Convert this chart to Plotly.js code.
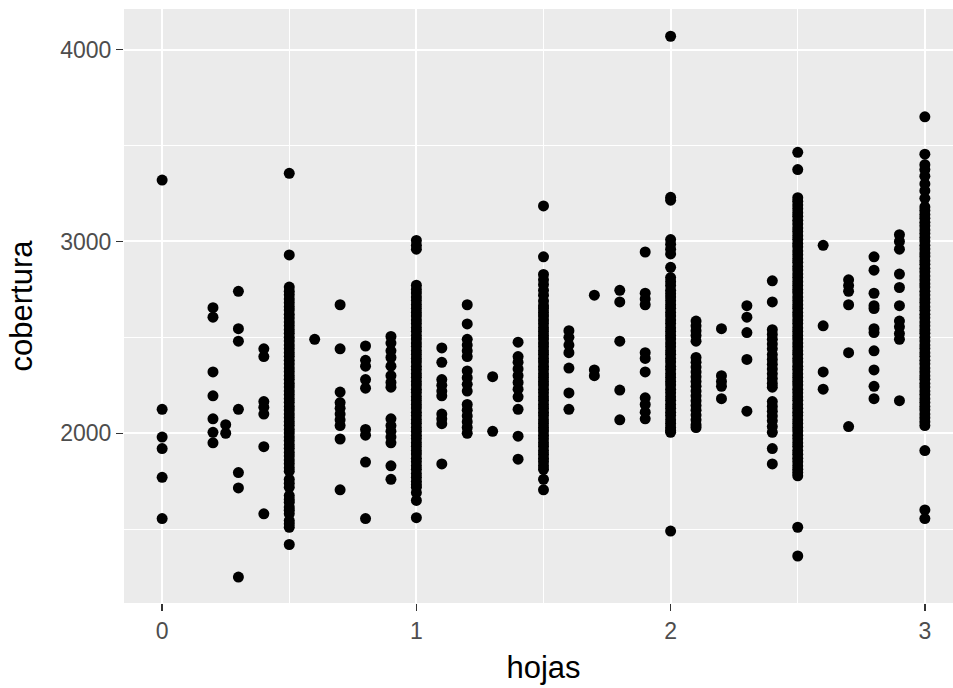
<!DOCTYPE html>
<html><head><meta charset="utf-8">
<script src="https://cdn.plot.ly/plotly-3.0.1.min.js"></script>
<style>html,body{margin:0;padding:0;overflow:hidden;background:#fff}#chart{width:963px;height:688px}</style>
</head><body><div id="chart"></div>
<script>
const hojasNiveles = [0, 0.2, 0.25, 0.3, 0.4, 0.5, 0.6, 0.7, 0.8, 0.9, 1.0, 1.1, 1.2, 1.3, 1.4, 1.5, 1.6, 1.7, 1.8, 1.9, 2.0, 2.1, 2.2, 2.3, 2.4, 2.5, 2.6, 2.7, 2.8, 2.9, 3.0];
const coberturaPorNivel = [
  [3320, 2125, 1980, 1920, 1770, 1555],
  [2655, 2605, 2320, 2195, 2075, 2005, 1950],
  [2045, 2000],
  [2740, 2545, 2480, 2125, 1795, 1715, 1250],
  [2440, 2400, 2165, 2135, 2100, 1930, 1580],
  [3355, 2930, 2762, 2741, 2722, 2700, 2681, 2660, 2642, 2620, 2601, 2580, 2561, 2540, 2522, 2500, 2481, 2460, 2441, 2420, 2402, 2380, 2361, 2340, 2321, 2300, 2282, 2260, 2241, 2220, 2201, 2180, 2162, 2140, 2121, 2100, 2081, 2060, 2042, 2020, 2001, 1980, 1961, 1940, 1922, 1900, 1881, 1860, 1841, 1820, 1802, 1760, 1740, 1718, 1675, 1655, 1640, 1615, 1598, 1580, 1545, 1528, 1510, 1420],
  [2490],
  [2670, 2440, 2215, 2160, 2130, 2100, 2070, 2040, 1970, 1705],
  [2455, 2380, 2350, 2280, 2235, 2020, 1990, 1850, 1555],
  [2505, 2470, 2430, 2395, 2350, 2300, 2265, 2240, 2075, 2040, 2010, 1980, 1950, 1830, 1760],
  [3005, 2980, 2960, 2772, 2750, 2731, 2710, 2692, 2670, 2651, 2630, 2612, 2590, 2571, 2550, 2532, 2510, 2491, 2470, 2452, 2430, 2411, 2390, 2372, 2350, 2331, 2310, 2292, 2270, 2251, 2230, 2212, 2190, 2171, 2150, 2132, 2110, 2091, 2070, 2052, 2030, 2011, 1990, 1972, 1950, 1931, 1910, 1892, 1870, 1851, 1830, 1812, 1790, 1771, 1750, 1732, 1718, 1690, 1650, 1560],
  [2445, 2370, 2280, 2250, 2220, 2195, 2100, 2075, 2050, 1840],
  [2670, 2570, 2490, 2460, 2430, 2400, 2325, 2290, 2255, 2220, 2150, 2120, 2090, 2060, 2030, 2000],
  [2295, 2010],
  [2475, 2400, 2370, 2335, 2300, 2265, 2230, 2190, 2125, 1985, 1865],
  [3185, 2920, 2828, 2800, 2775, 2745, 2720, 2690, 2665, 2650, 2630, 2611, 2590, 2572, 2550, 2531, 2510, 2492, 2470, 2451, 2430, 2412, 2390, 2371, 2350, 2332, 2310, 2291, 2270, 2252, 2230, 2211, 2190, 2172, 2150, 2131, 2110, 2092, 2070, 2051, 2030, 2012, 1990, 1971, 1950, 1932, 1910, 1891, 1870, 1852, 1830, 1812, 1760, 1705],
  [2535, 2500, 2460, 2420, 2340, 2210, 2125],
  [2720, 2330, 2300],
  [2745, 2685, 2480, 2225, 2070],
  [2945, 2730, 2700, 2670, 2420, 2390, 2320, 2185, 2150, 2110, 2075],
  [4070, 3230, 3215, 3010, 2985, 2960, 2935, 2865, 2812, 2790, 2770, 2745, 2728, 2710, 2691, 2670, 2652, 2630, 2611, 2590, 2572, 2550, 2531, 2510, 2492, 2470, 2451, 2430, 2412, 2390, 2371, 2350, 2332, 2310, 2291, 2270, 2252, 2230, 2211, 2190, 2172, 2150, 2131, 2110, 2092, 2070, 2051, 2030, 2015, 2005, 1490],
  [2585, 2560, 2535, 2510, 2480, 2395, 2370, 2345, 2320, 2295, 2270, 2245, 2220, 2195, 2170, 2145, 2120, 2095, 2070, 2045, 2030],
  [2545, 2300, 2270, 2245, 2180],
  [2665, 2605, 2525, 2385, 2115],
  [2795, 2685, 2540, 2515, 2490, 2465, 2440, 2410, 2385, 2360, 2335, 2310, 2285, 2260, 2240, 2165, 2140, 2115, 2090, 2065, 2035, 2005, 1920, 1840],
  [3465, 3375, 3228, 3210, 3190, 3171, 3150, 3132, 3110, 3091, 3070, 3052, 3030, 3011, 2990, 2972, 2950, 2931, 2910, 2892, 2870, 2851, 2830, 2812, 2790, 2771, 2750, 2732, 2710, 2691, 2670, 2652, 2630, 2611, 2590, 2572, 2550, 2531, 2510, 2492, 2470, 2451, 2430, 2412, 2390, 2371, 2350, 2332, 2310, 2291, 2270, 2252, 2230, 2211, 2190, 2172, 2150, 2131, 2110, 2092, 2070, 2051, 2030, 2012, 1990, 1971, 1950, 1932, 1910, 1891, 1870, 1852, 1830, 1812, 1795, 1778, 1510, 1360],
  [2980, 2560, 2320, 2230],
  [2800, 2770, 2740, 2670, 2420, 2035],
  [2920, 2850, 2730, 2665, 2650, 2545, 2525, 2430, 2330, 2245, 2180],
  [3035, 3000, 2960, 2830, 2760, 2665, 2585, 2555, 2520, 2490, 2170],
  [3650, 3455, 3400, 3375, 3340, 3300, 3265, 3225, 3180, 3162, 3140, 3121, 3100, 3082, 3060, 3041, 3020, 3002, 2980, 2961, 2940, 2922, 2900, 2881, 2860, 2842, 2820, 2801, 2780, 2762, 2740, 2721, 2700, 2682, 2660, 2641, 2620, 2602, 2580, 2561, 2540, 2522, 2500, 2481, 2460, 2442, 2420, 2401, 2380, 2362, 2340, 2321, 2300, 2282, 2260, 2241, 2220, 2202, 2180, 2161, 2140, 2122, 2100, 2081, 2060, 2040, 1910, 1600, 1555]
];
const xTicks = [0, 1, 2, 3];
const xMinor = [0.5, 1.5, 2.5];
const yTicks = [2000, 3000, 4000];
const yMinor = [1500, 2500, 3500];

const xs = [], ys = [];
hojasNiveles.forEach((h, i) => coberturaPorNivel[i].forEach(c => { xs.push(h); ys.push(c); }));

const axisCommon = {
  showgrid: true, gridcolor: '#FFFFFF', gridwidth: 2,
  zeroline: false, showline: false,
  ticks: 'outside', ticklen: 7, tickwidth: 1.5, tickcolor: '#333333',
  tickfont: {size: 23, color: '#4D4D4D'},
  tickmode: 'array'
};

Plotly.newPlot('chart', [{
  type: 'scatter', mode: 'markers', x: xs, y: ys,
  marker: {color: '#000000', size: 11, line: {width: 0}},
  hoverinfo: 'x+y'
}], {
  width: 963, height: 688,
  margin: {l: 124, r: 0, t: 9, b: 85, pad: 0},
  paper_bgcolor: '#FFFFFF', plot_bgcolor: '#EBEBEB',
  font: {family: '"Liberation Sans", Arial, sans-serif', color: '#000'},
  showlegend: false,
  xaxis: Object.assign({}, axisCommon, {
    range: [-0.15, 3.15], tickvals: xTicks, ticktext: xTicks.map(String),
    minor: {tickmode: 'array', tickvals: xMinor, showgrid: true, gridcolor: '#FFFFFF', gridwidth: 1.2, ticks: ''},
    title: {text: 'hojas', font: {size: 31, color: '#000'}, standoff: 13}
  }),
  yaxis: Object.assign({}, axisCommon, {
    range: [1115, 4212], tickvals: yTicks, ticktext: yTicks.map(String),
    minor: {tickmode: 'array', tickvals: yMinor, showgrid: true, gridcolor: '#FFFFFF', gridwidth: 1.2, ticks: ''},
    title: {text: 'cobertura', font: {size: 31, color: '#000'}, standoff: 18}
  })
}, {displayModeBar: false, staticPlot: true});
</script>
</body></html>
